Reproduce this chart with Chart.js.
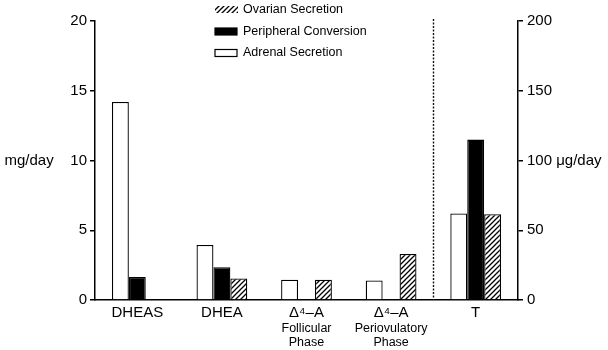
<!DOCTYPE html>
<html>
<head>
<meta charset="utf-8">
<script src="https://cdn.jsdelivr.net/npm/chart.js@4/dist/chart.umd.min.js"></script>
<style>
  html, body { margin: 0; padding: 0; background: #fff; }
  #wrap { width: 608px; height: 350px; position: relative; }
</style>
</head>
<body>
<div id="wrap"><canvas id="c"></canvas></div>
<script>
// ---- data ----
const categories = ['DHEAS', 'DHEA', 'Δ⁴–A', 'Δ⁴–A', 'T'];
const phaseLabels = ['', '', ['Follicular', 'Phase'], ['Periovulatory', 'Phase'], ''];
const seriesNames = ['Adrenal Secretion', 'Peripheral Conversion', 'Ovarian Secretion'];
// mg/day (left axis)
const adrenalMg    = [14.2, 3.95, 1.45, 1.4, null];
const peripheralMg = [1.65, 2.35, null, null, null];
const ovarianMg    = [null, 1.55, 1.45, 3.3, null];
// µg/day (right axis) — testosterone
const adrenalUg    = [null, null, null, null, 62];
const peripheralUg = [null, null, null, null, 115];
const ovarianUg    = [null, null, null, null, 61.5];
const leftTicks  = [0, 5, 10, 15, 20];
const rightTicks = [0, 50, 100, 150, 200];

// ---- styles ----
const FONT = "'Liberation Sans', Arial, sans-serif";
function makeHatch() {
  const s = 5;
  const p = document.createElement('canvas');
  p.width = s; p.height = s;
  const g = p.getContext('2d');
  g.fillStyle = '#fff'; g.fillRect(0, 0, s, s);
  g.strokeStyle = '#000'; g.lineWidth = 1.3;
  g.beginPath();
  g.moveTo(-1, s + 1); g.lineTo(s + 1, -1);
  g.moveTo(-1, 1); g.lineTo(1, -1);
  g.moveTo(s - 1, s + 1); g.lineTo(s + 1, s - 1);
  g.stroke();
  return g.createPattern(p, 'repeat');
}
const ctx = document.getElementById('c').getContext('2d');
const hatch = makeHatch();
const fills = ['#ffffff', '#000000', hatch];
const stacks = ['a', 'p', 'o'];

function ds(i, data, axis) {
  return {
    label: seriesNames[i],
    data: data,
    yAxisID: axis,
    stack: stacks[i],
    backgroundColor: fills[i],
    borderColor: '#000',
    borderWidth: 1.3,
    borderSkipped: 'start',
    categoryPercentage: 0.6,
    barPercentage: 1.0
  };
}

const legendPlugin = {
  id: 'stackLegend',
  afterDraw(chart) {
    const c = chart.ctx;
    const order = [2, 1, 0];
    const x0 = 215, y0 = 10, rowH = 21.5;
    c.save();
    c.font = '12.5px ' + FONT;
    c.textBaseline = 'middle';
    c.fillStyle = '#000';
    order.forEach((i, r) => {
      const y = y0 + r * rowH;
      const d = chart.data.datasets[i];
      if (i === 2) {
        c.fillStyle = d.backgroundColor;
        c.fillRect(x0, y - 4, 23, 7);
      } else {
        c.fillStyle = d.backgroundColor;
        c.fillRect(x0, y - 3.5, 22, 7);
        c.strokeStyle = '#000'; c.lineWidth = 1.2;
        c.strokeRect(x0, y - 3.5, 22, 7);
      }
      c.fillStyle = '#000';
      c.fillText(d.label, x0 + 28, y);
    });
    c.restore();
  }
};

const dividerPlugin = {
  id: 'divider',
  afterDatasetsDraw(chart) {
    const xs = chart.scales.x;
    const x = Math.round(xs.getPixelForValue(3.5)) + 0.5;
    const a = chart.chartArea;
    const c = chart.ctx;
    c.save();
    c.strokeStyle = '#111';
    c.lineWidth = 1.4;
    c.setLineDash([2, 1.5]);
    c.beginPath();
    c.moveTo(x, a.top - 2);
    c.lineTo(x, a.bottom);
    c.stroke();
    c.restore();
  }
};

new Chart(ctx, {
  type: 'bar',
  data: {
    labels: categories,
    datasets: [
      ds(0, adrenalMg, 'y'), ds(1, peripheralMg, 'y'), ds(2, ovarianMg, 'y'),
      ds(0, adrenalUg, 'y2'), ds(1, peripheralUg, 'y2'), ds(2, ovarianUg, 'y2')
    ]
  },
  options: {
    responsive: true,
    maintainAspectRatio: false,
    animation: false,
    layout: { padding: { top: 21, bottom: 0, left: 0, right: 0 } },
    plugins: { legend: { display: false }, tooltip: { enabled: false } },
    scales: {
      x: {
        type: 'category',
        position: 'bottom',
        offset: true,
        grid: { display: false, drawTicks: false },
        border: { display: true, color: '#000', width: 1.5 },
        ticks: { color: '#000', font: { family: FONT, size: 15 }, padding: 4, maxRotation: 0, autoSkip: false },
        afterFit(s) { s.height = 22; }
      },
      x2: {
        type: 'category',
        position: 'bottom',
        labels: phaseLabels,
        offset: true,
        grid: { display: false, drawTicks: false },
        border: { display: false },
        ticks: { color: '#000', font: { family: FONT, size: 12.5, lineHeight: 1.12 }, padding: 0, maxRotation: 0, autoSkip: false },
        afterFit(s) { s.height = 28; }
      },
      y: {
        position: 'left',
        min: 0, max: 20,
        stacked: false,
        afterBuildTicks(s) { s.ticks = leftTicks.map(v => ({ value: v })); },
        grid: { display: true, drawOnChartArea: false, drawTicks: true, tickLength: 5, color: '#000', lineWidth: 1.5 },
        border: { display: true, color: '#000', width: 1.5 },
        ticks: {
          color: '#000', font: { family: FONT, size: 15 }, padding: 3,
          callback: v => v === 10 ? 'mg/day    ' + v : String(v)
        },
        afterFit(s) { s.width = 95; }
      },
      y2: {
        position: 'right',
        min: 0, max: 200,
        stacked: false,
        afterBuildTicks(s) { s.ticks = rightTicks.map(v => ({ value: v })); },
        grid: { display: true, drawOnChartArea: false, drawTicks: true, tickLength: 5, color: '#000', lineWidth: 1.5 },
        border: { display: true, color: '#000', width: 1.5 },
        ticks: {
          color: '#000', font: { family: FONT, size: 15 }, padding: 4,
          callback: v => v === 100 ? v + ' μg/day' : String(v)
        },
        afterFit(s) { s.width = 90; }
      }
    }
  },
  plugins: [legendPlugin, dividerPlugin]
});
</script>
</body>
</html>
